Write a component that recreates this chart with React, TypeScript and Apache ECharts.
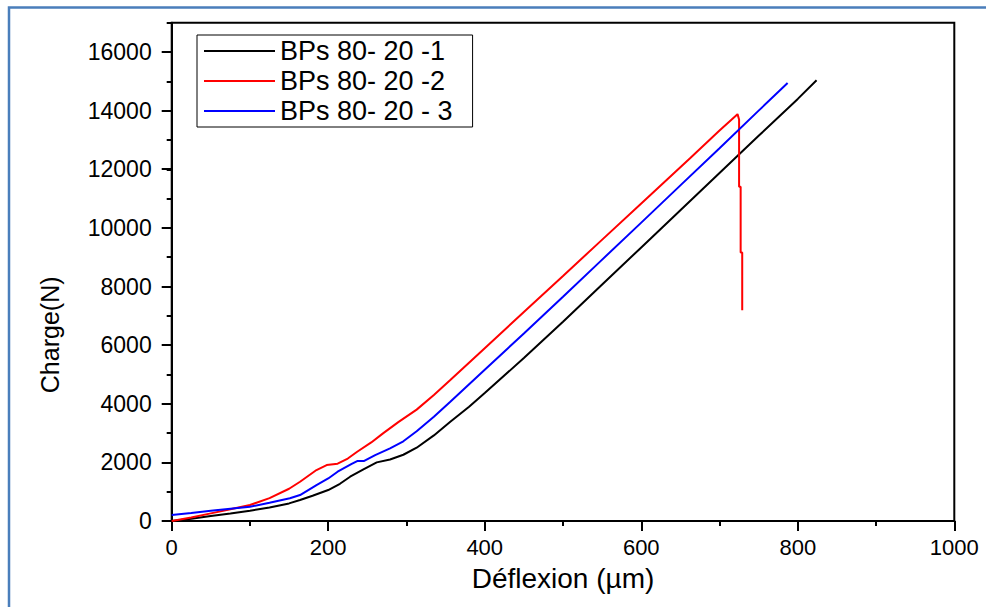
import React, { useEffect, useRef } from "react";
import * as echarts from "echarts";

// ---- Data ----
const seriesNames = ["BPs 80- 20 -1", "BPs 80- 20 -2", "BPs 80- 20 - 3"];
const seriesColors = ["#000000", "#ff0000", "#0000ff"];

// BPs 80-20 -1 (black)
const deflection1 = [0, 25, 50, 75, 100, 125, 150, 164, 180, 200, 215, 228, 245, 262, 279, 296, 313, 335, 356, 380, 400, 450, 500, 547, 600, 650, 700, 750, 800, 824];
const charge1 = [0, 80, 170, 255, 350, 460, 600, 716, 860, 1057, 1270, 1510, 1760, 2000, 2100, 2260, 2500, 2920, 3386, 3900, 4364, 5560, 6800, 7990, 9334, 10600, 11870, 13140, 14400, 15036];

// BPs 80-20 -2 (red)
const deflection2 = [0, 25, 50, 75, 100, 125, 150, 164, 185, 198, 212, 225, 237, 255, 270, 290, 313, 335, 356, 400, 450, 500, 547, 600, 662, 700, 723, 725, 725, 727, 727, 729, 729];
const charge2 = [0, 120, 260, 400, 545, 780, 1100, 1340, 1739, 1909, 1955, 2130, 2363, 2680, 2990, 3380, 3800, 4300, 4807, 5894, 7130, 8360, 9523, 10830, 12366, 13320, 13880, 13700, 11400, 11400, 9160, 9160, 7194];

// BPs 80-20 - 3 (blue)
const deflection3 = [0, 25, 50, 75, 100, 125, 151, 164, 185, 200, 212, 230, 237, 246, 260, 279, 296, 313, 335, 356, 400, 450, 500, 547, 600, 650, 700, 750, 787];
const charge3 = [205, 275, 350, 420, 488, 620, 774, 886, 1227, 1450, 1682, 1950, 2045, 2050, 2250, 2478, 2720, 3060, 3560, 4068, 5160, 6400, 7650, 8841, 10180, 11450, 12720, 14000, 14944];

// Tick labels
const xTickLabels = [0, 200, 400, 600, 800, 1000];
const yTickLabels = [0, 2000, 4000, 6000, 8000, 10000, 12000, 14000, 16000];

const xName = "Déflexion (µm)";
const yName = "Charge(N)";

const FONT = "'Liberation Sans', Arial, sans-serif";

function pairs(xs: number[], ys: number[]) {
  return xs.map((x, i) => [x, ys[i]]);
}

export default function App() {
  const ref = useRef<HTMLDivElement>(null);

  useEffect(() => {
    if (!ref.current) return;
    const chart = echarts.init(ref.current, null, { renderer: "svg" });
    const datasets = [
      pairs(deflection1, charge1),
      pairs(deflection2, charge2),
      pairs(deflection3, charge3),
    ];
    const L = 171.7, R = 31.7, B = 86;
    const option: any = {
      animation: false,
      backgroundColor: "#ffffff",
      graphic: [
        {
          type: "rect",
          shape: { x: 9, y: 7.5, width: 1000, height: 700 },
          style: { fill: "none", stroke: "#4a7ebb", lineWidth: 2.5 },
          silent: true,
          z: -10,
        },
      ],
      grid: [
        {
          left: L, right: R, top: 22.7, bottom: B,
          show: true, borderColor: "#000", borderWidth: 2,
          outerBoundsMode: "none",
        },
        {
          left: L, right: R, top: 51.7, bottom: B,
          outerBoundsMode: "none",
        },
      ],
      legend: {
        orient: "vertical",
        left: 197,
        top: 35,
        padding: [1, 20, 1, 7],
        itemGap: 0,
        itemWidth: 71,
        itemHeight: 2,
        icon: "rect",
        borderColor: "#000",
        borderWidth: 1,
        backgroundColor: "#fff",
        textStyle: { fontFamily: FONT, fontSize: 27, color: "#000", lineHeight: 30 },
        data: seriesNames,
      },
      xAxis: [
        {
          type: "value",
          gridIndex: 0,
          min: 0,
          max: 1000,
          interval: 200,
          name: xName,
          nameLocation: "middle",
          nameGap: 43,
          nameTextStyle: { fontFamily: FONT, fontSize: 28, color: "#000" },
          axisLine: { show: true, lineStyle: { color: "#000", width: 2 } },
          axisTick: { show: true, inside: false, length: 10, lineStyle: { color: "#000", width: 2 } },
          minorTick: { show: true, splitNumber: 2, length: 5, lineStyle: { color: "#000", width: 2 } },
          axisLabel: {
            margin: 15,
            fontFamily: FONT,
            fontSize: 22,
            color: "#000",
            formatter: (v: number) => (xTickLabels.includes(v) ? String(v) : ""),
          },
          splitLine: { show: false },
        },
        {
          type: "value",
          gridIndex: 1,
          min: 0,
          max: 1000,
          show: false,
        },
      ],
      yAxis: [
        {
          type: "value",
          gridIndex: 0,
          min: 0,
          max: 17000,
          interval: 1000,
          name: yName,
          nameLocation: "middle",
          nameGap: 109,
          nameRotate: 90,
          nameTextStyle: { fontFamily: FONT, fontSize: 25, color: "#000", padding: [0, 126, 0, 0] },
          axisLine: { show: true, lineStyle: { color: "#000", width: 2 } },
          axisTick: { show: true, inside: false, length: 5, lineStyle: { color: "#000", width: 2 } },
          axisLabel: {
            margin: 20,
            fontFamily: FONT,
            fontSize: 23,
            color: "#000",
            formatter: (v: number) => (yTickLabels.includes(v) ? String(v) : ""),
          },
          splitLine: { show: false },
        },
        {
          type: "value",
          gridIndex: 1,
          min: 0,
          max: 16000,
          interval: 2000,
          axisLine: { show: false },
          axisTick: { show: true, inside: false, length: 10, lineStyle: { color: "#000", width: 2 } },
          axisLabel: { show: false },
          splitLine: { show: false },
        },
      ],
      series: datasets.map((d, i) => ({
        name: seriesNames[i],
        type: "line",
        xAxisIndex: 0,
        yAxisIndex: 0,
        data: d,
        showSymbol: false,
        symbol: "none",
        lineStyle: { color: seriesColors[i], width: 2 },
        itemStyle: { color: seriesColors[i] },
        clip: true,
      })),
    };
    chart.setOption(option);
    return () => chart.dispose();
  }, []);

  return (
    <div
      ref={ref}
      style={{ position: "fixed", left: 0, top: 0, width: 986, height: 607, background: "#fff" }}
    />
  );
}
